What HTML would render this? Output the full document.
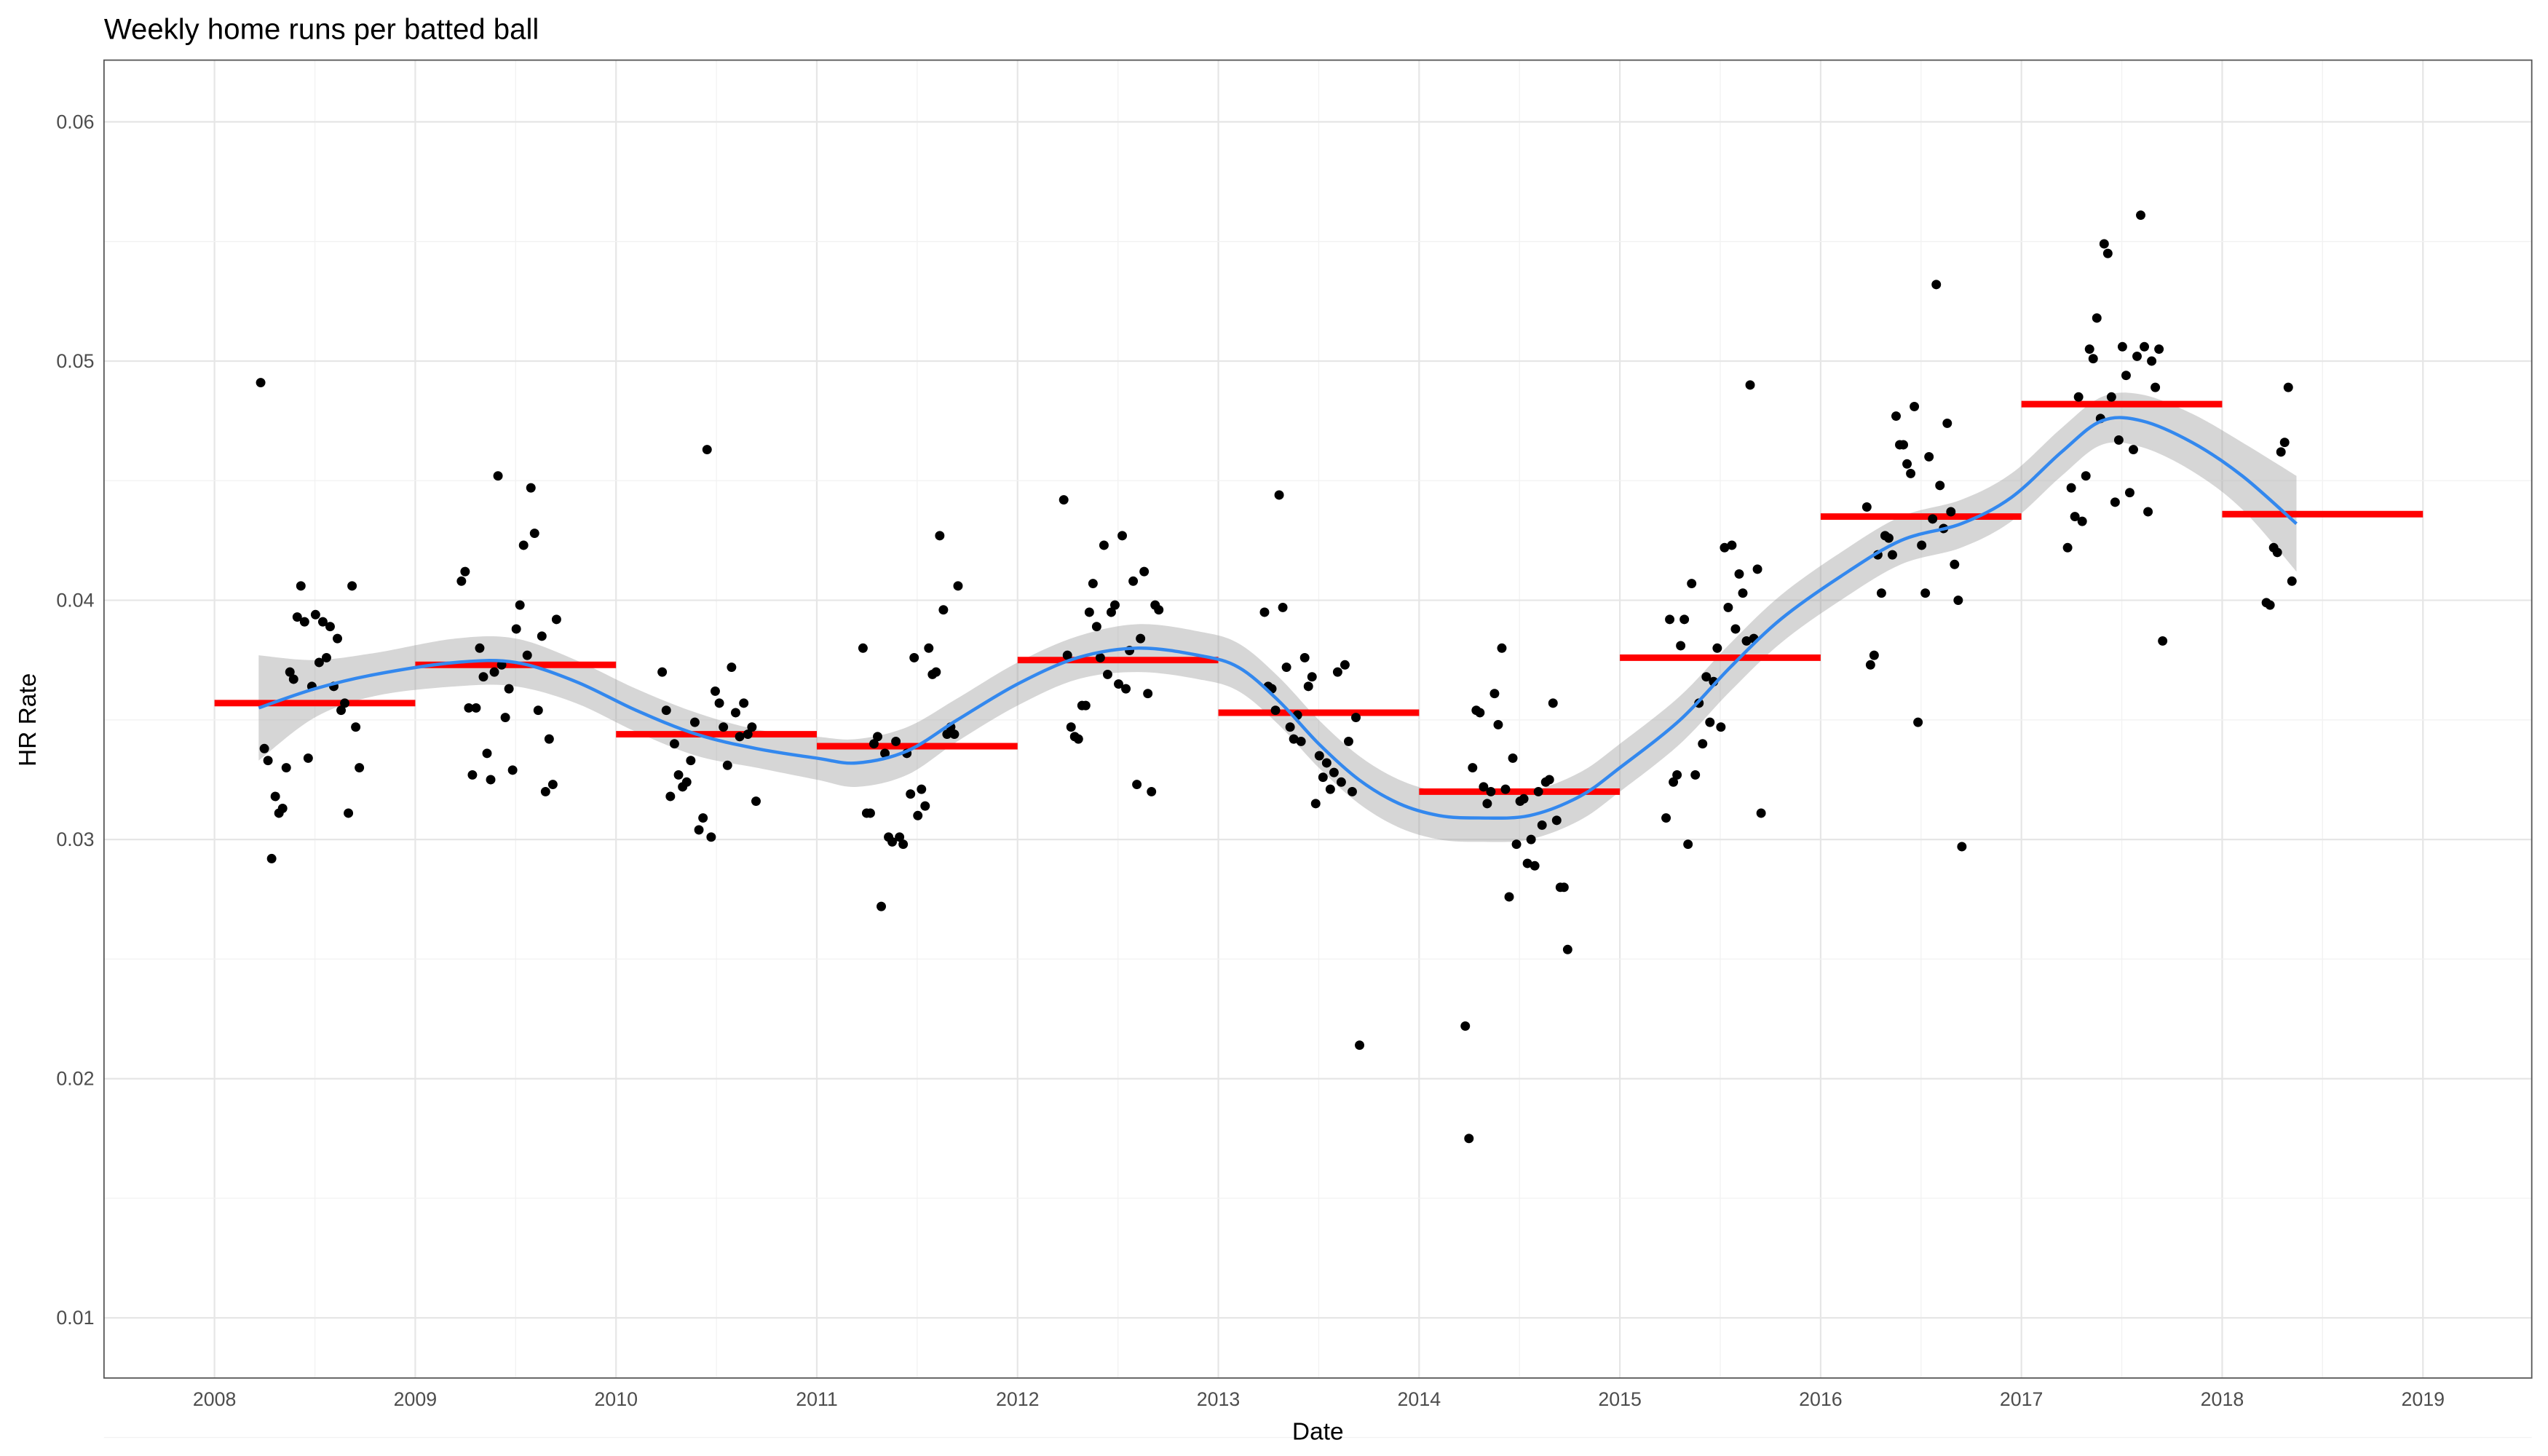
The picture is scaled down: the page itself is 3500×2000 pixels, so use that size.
<!DOCTYPE html>
<html><head><meta charset="utf-8"><style>
html,body{margin:0;padding:0;background:#fff}
svg{display:block;font-family:"Liberation Sans",sans-serif}
</style></head><body>
<svg id="chart" width="3500" height="2000" viewBox="0 0 1568 896" xmlns="http://www.w3.org/2000/svg">
<rect width="1568" height="896" fill="#fff"/>
<text x="64" y="24" font-size="18" fill="#000">Weekly home runs per batted ball</text>
<g id="grid"></g><g id="band"></g><g id="means"></g><g id="pts"></g><g id="smooth"></g><g id="axes"></g>
<rect x="64" y="37" width="1494" height="811" fill="none" stroke="#555" stroke-width="0.8"/>
<text x="811" y="886" font-size="15" text-anchor="middle">Date</text>
<text x="22" y="443" font-size="15" text-anchor="middle" transform="rotate(-90 22 443)">HR Rate</text>
</svg>
<script>
const xTicks=[2008,2009,2010,2011,2012,2013,2014,2015,2016,2017,2018,2019];
const yTicks=[0.01,0.02,0.03,0.04,0.05,0.06];
const seasons=[2008,2009,2010,2011,2012,2013,2014,2015,2016,2017,2018];
const seasonStart=[2008.23,2009.23,2010.23,2011.23,2012.23,2013.23,2014.23,2015.23,2016.23,2017.23,2018.22];
const v2008=[0.0491,0.0338,0.0333,0.0292,0.0318,0.0311,0.0313,0.0330,0.0370,0.0367,0.0393,0.0406,0.0391,0.0334,0.0364,0.0394,0.0374,0.0391,0.0376,0.0389,0.0364,0.0384,0.0354,0.0357,0.0311,0.0406,0.0347,0.0330];
const v2009=[0.0408,0.0412,0.0355,0.0327,0.0355,0.0380,0.0368,0.0336,0.0325,0.0370,0.0452,0.0373,0.0351,0.0363,0.0329,0.0388,0.0398,0.0423,0.0377,0.0447,0.0428,0.0354,0.0385,0.0320,0.0342,0.0323,0.0392];
const v2010=[0.0370,0.0354,0.0318,0.0340,0.0327,0.0322,0.0324,0.0333,0.0349,0.0304,0.0309,0.0463,0.0301,0.0362,0.0357,0.0347,0.0331,0.0372,0.0353,0.0343,0.0357,0.0344,0.0347,0.0316];
const v2011=[0.0380,0.0311,0.0311,0.0340,0.0343,0.0272,0.0336,0.0301,0.0299,0.0341,0.0301,0.0298,0.0336,0.0319,0.0376,0.0310,0.0321,0.0314,0.0380,0.0369,0.0370,0.0427,0.0396,0.0344,0.0347,0.0344,0.0406];
const v2012=[0.0442,0.0377,0.0347,0.0343,0.0342,0.0356,0.0356,0.0395,0.0407,0.0389,0.0376,0.0423,0.0369,0.0395,0.0398,0.0365,0.0427,0.0363,0.0379,0.0408,0.0323,0.0384,0.0412,0.0361,0.0320,0.0398,0.0396];
const v2013=[0.0395,0.0364,0.0363,0.0354,0.0444,0.0397,0.0372,0.0347,0.0342,0.0352,0.0341,0.0376,0.0364,0.0368,0.0315,0.0335,0.0326,0.0332,0.0321,0.0328,0.0370,0.0324,0.0373,0.0341,0.0320,0.0351,0.0214];
const v2014=[0.0222,0.0175,0.0330,0.0354,0.0353,0.0322,0.0315,0.0320,0.0361,0.0348,0.0380,0.0321,0.0276,0.0334,0.0298,0.0316,0.0317,0.0290,0.0300,0.0289,0.0320,0.0306,0.0324,0.0325,0.0357,0.0308,0.0280,0.0280,0.0254];
const v2015=[0.0309,0.0392,0.0324,0.0327,0.0381,0.0392,0.0298,0.0407,0.0327,0.0357,0.0340,0.0368,0.0349,0.0366,0.0380,0.0347,0.0422,0.0397,0.0423,0.0388,0.0411,0.0403,0.0383,0.0490,0.0384,0.0413,0.0311];
const v2016=[0.0439,0.0373,0.0377,0.0419,0.0403,0.0427,0.0426,0.0419,0.0477,0.0465,0.0465,0.0457,0.0453,0.0481,0.0349,0.0423,0.0403,0.0460,0.0434,0.0532,0.0448,0.0430,0.0474,0.0437,0.0415,0.0400,0.0297];
const v2017=[0.0422,0.0447,0.0435,0.0485,0.0433,0.0452,0.0505,0.0501,0.0518,0.0476,0.0549,0.0545,0.0485,0.0441,0.0467,0.0506,0.0494,0.0445,0.0463,0.0502,0.0561,0.0506,0.0437,0.0500,0.0489,0.0505,0.0383];
const v2018=[0.0399,0.0398,0.0422,0.0420,0.0462,0.0466,0.0489,0.0408];
const seasonVals=[v2008,v2009,v2010,v2011,v2012,v2013,v2014,v2015,v2016,v2017,v2018];
const yearMeans=[0.0357,0.0373,0.0344,0.0339,0.0375,0.0353,0.0320,0.0376,0.0435,0.0482,0.0436];
const smDates=[2008.22,2008.5,2008.8,2009.2,2009.5,2009.8,2010.1,2010.4,2010.7,2011.0,2011.2,2011.45,2011.7,2012.0,2012.3,2012.6,2012.9,2013.1,2013.3,2013.5,2013.7,2013.9,2014.1,2014.3,2014.55,2014.8,2015.0,2015.3,2015.55,2015.8,2016.1,2016.4,2016.7,2016.95,2017.2,2017.4,2017.6,2017.85,2018.1,2018.37];
const smVals=[0.0355,0.0363,0.0369,0.0374,0.0374,0.0366,0.0354,0.0344,0.0338,0.0334,0.0332,0.0337,0.0350,0.0365,0.0376,0.0380,0.0377,0.0372,0.0358,0.0340,0.0325,0.0315,0.0310,0.0309,0.0310,0.0318,0.0330,0.0350,0.0372,0.0392,0.0410,0.0425,0.0432,0.0443,0.0462,0.0475,0.0475,0.0466,0.0452,0.0432];
const smSE=[0.0022,0.0012,0.0009,0.0010,0.0010,0.0009,0.0009,0.0009,0.0008,0.0009,0.0010,0.0010,0.0009,0.0009,0.0009,0.0010,0.0010,0.0010,0.0010,0.0010,0.0010,0.0010,0.0010,0.0010,0.0010,0.0010,0.0010,0.0010,0.0010,0.0010,0.0010,0.0010,0.0010,0.0010,0.0010,0.0010,0.0011,0.0012,0.0014,0.0020];

const NS='http://www.w3.org/2000/svg';
const X=d=>132+(d-2008)*123.55;
const Y=v=>75+(0.06-v)/0.01*147.2;
function mk(tag,parent,attrs){const e=document.createElementNS(NS,tag);for(const k in attrs)e.setAttribute(k,attrs[k]);document.getElementById(parent).appendChild(e);return e;}
function curve(pts,start){
  let d=(start?'M':'L')+pts[0][0]+','+pts[0][1];
  for(let i=0;i<pts.length-1;i++){
    const p0=pts[Math.max(i-1,0)],p1=pts[i],p2=pts[i+1],p3=pts[Math.min(i+2,pts.length-1)];
    const c1=[p1[0]+(p2[0]-p0[0])/6,p1[1]+(p2[1]-p0[1])/6];
    const c2=[p2[0]-(p3[0]-p1[0])/6,p2[1]-(p3[1]-p1[1])/6];
    d+='C'+c1[0]+','+c1[1]+' '+c2[0]+','+c2[1]+' '+p2[0]+','+p2[1];
  }
  return d;
}

for(let i=0;i<xTicks.length;i++){
  const t=xTicks[i];
  const l=mk('line','grid',{x1:X(t),x2:X(t),y1:37,y2:848,stroke:'#e6e6e6','stroke-width':1});
  
  
  if(i<xTicks.length-1){const m=mk('line','grid',{x1:X(t+0.5),x2:X(t+0.5),y1:37,y2:848,stroke:'#f2f2f2','stroke-width':0.6});
  
  }
  const tx=mk('text','axes',{x:X(t),y:865,'font-size':12,'text-anchor':'middle',fill:'#4d4d4d'});
  tx.textContent=t;
  
  
}
for(let i=0;i<yTicks.length;i++){
  const t=yTicks[i];
  const l=mk('line','grid',{x1:64,x2:1558,y1:Y(t),y2:Y(t),stroke:'#e6e6e6','stroke-width':1});
  
  
  const m=mk('line','grid',{x1:64,x2:1558,y1:Y(t-0.005),y2:Y(t-0.005),stroke:'#f2f2f2','stroke-width':0.6});
  
  
  const tx=mk('text','axes',{x:58,y:Y(t)+4,'font-size':12,'text-anchor':'end',fill:'#4d4d4d'});
  tx.textContent=t.toFixed(2);
  
  
}
const upPts=smDates.map((d,i)=>[X(d),Y(smVals[i]+smSE[i])]);
const loPts=smDates.map((d,i)=>[X(d),Y(smVals[i]-smSE[i])]).reverse();
const band=mk('path','band',{d:curve(upPts,true)+curve(loPts,false)+'Z',fill:'#999',opacity:0.4});


for(let i=0;i<seasons.length;i++){
  const l=mk('line','means',{x1:X(seasons[i]),x2:X(seasons[i]+1),y1:Y(yearMeans[i]),y2:Y(yearMeans[i]),stroke:'#ff0000','stroke-width':4});
  
  
}
for(let s=0;s<seasonVals.length;s++){
  const vals=seasonVals[s];
  for(let j=0;j<vals.length;j++){
    const d=seasonStart[s]+j*7/365.25*(seasons[s]===2010?1.06:0.95);
    const c=mk('circle','pts',{cx:X(d),cy:Y(vals[j]),r:2.9,fill:'#000'});
    
    
  }
}
const smPts=smDates.map((d,i)=>[X(d),Y(smVals[i])]);
const sl=mk('path','smooth',{d:curve(smPts,true),fill:'none',stroke:'#3388ee','stroke-width':2});


</script>
</body></html>
